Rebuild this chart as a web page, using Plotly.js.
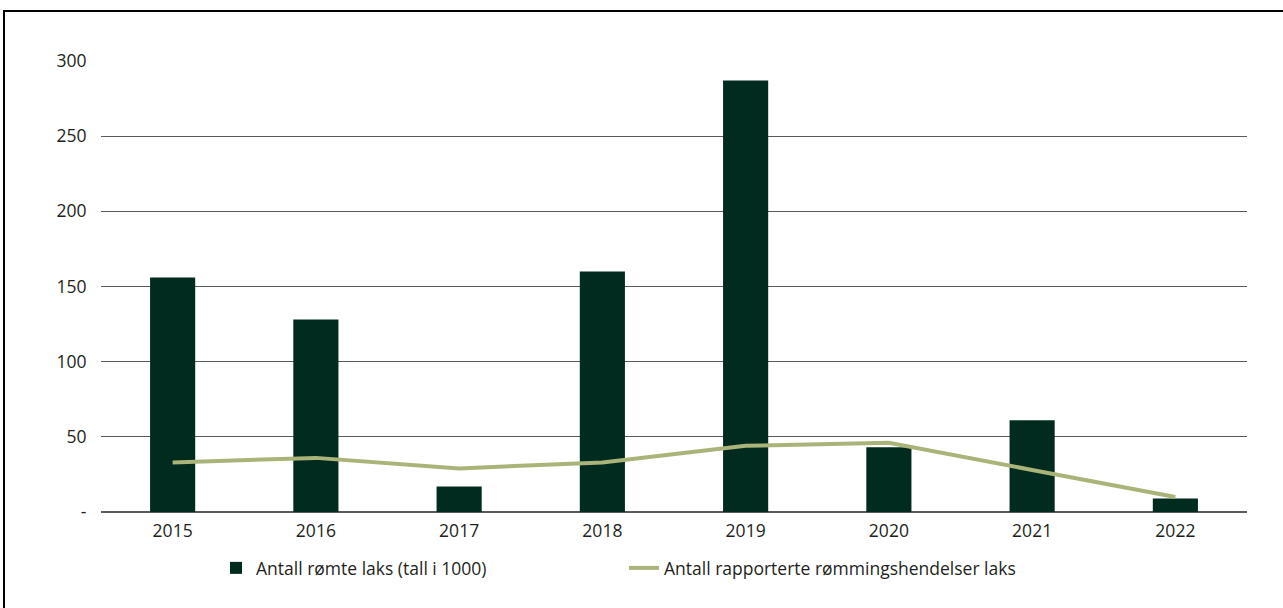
<!DOCTYPE html>
<html>
<head>
<meta charset="utf-8">
<script src="https://cdn.plot.ly/plotly-3.0.1.min.js"></script>
<style>
  html, body { margin: 0; padding: 0; background: #fff; }
  #wrap { position: relative; width: 1283px; height: 608px; }
  #chart { width: 1283px; height: 608px; }
  #frame { position: absolute; left: 3px; top: 10px; width: 1280px; height: 598px;
           border-top: 2.5px solid #000; border-left: 2px solid #000; pointer-events: none; box-sizing: border-box; }
</style>
</head>
<body>
<div id="wrap">
  <div id="chart"></div>
  <div id="frame"></div>
</div>
<script>
const years = ['2015', '2016', '2017', '2018', '2019', '2020', '2021', '2022'];
const escapedSalmon = [156, 128, 17, 160, 287, 43, 61, 9];
const reportedEvents = [33, 36, 29, 33, 44, 46, 28, 10];
const yTickValues = [0, 50, 100, 150, 200, 250, 300];
const yTickLabels = ['-', '50', '100', '150', '200', '250', '300'];

const traces = [
  {
    type: 'bar',
    name: 'Antall rømte laks (tall i 1000)',
    x: years,
    y: escapedSalmon,
    marker: { color: '#022b20', line: { width: 0 } }
  },
  {
    type: 'scatter',
    mode: 'lines',
    name: 'Antall rapporterte rømmingshendelser laks',
    x: years,
    y: reportedEvents,
    line: { color: '#aab478', width: 4 }
  }
];

const layout = {
  width: 1283,
  height: 608,
  margin: { l: 101, r: 36, t: 61, b: 96 },
  paper_bgcolor: '#ffffff',
  plot_bgcolor: '#ffffff',
  font: { family: '"Open Sans", "Noto Sans", sans-serif', size: 17.5, color: '#231f20' },
  bargap: 0.685,
  showlegend: true,
  legend: {
    orientation: 'h',
    xref: 'container',
    yref: 'container',
    x: 216 / 1283,
    xanchor: 'left',
    y: 1 - 568 / 608,
    yanchor: 'middle',
    entrywidth: 363,
    entrywidthmode: 'pixels',
    font: { size: 17.5, color: '#231f20' },
    bgcolor: 'rgba(0,0,0,0)'
  },
  xaxis: {
    type: 'category',
    showgrid: false,
    zeroline: false,
    showline: false,
    ticks: 'outside',
    ticklen: 3,
    tickcolor: 'rgba(0,0,0,0)',
    tickfont: { size: 17.5 }
  },
  yaxis: {
    range: [0, 300],
    tickvals: yTickValues,
    ticktext: yTickLabels,
    showgrid: true,
    gridcolor: '#5a5a5a',
    gridwidth: 1,
    zeroline: true,
    zerolinecolor: '#5a5a5a',
    zerolinewidth: 1.5,
    showline: false,
    ticks: 'outside',
    ticklen: 10,
    tickcolor: 'rgba(0,0,0,0)',
    tickfont: { size: 17.5 }
  }
};

Plotly.newPlot('chart', traces, layout, { displayModeBar: false, staticPlot: true });
</script>
</body>
</html>
